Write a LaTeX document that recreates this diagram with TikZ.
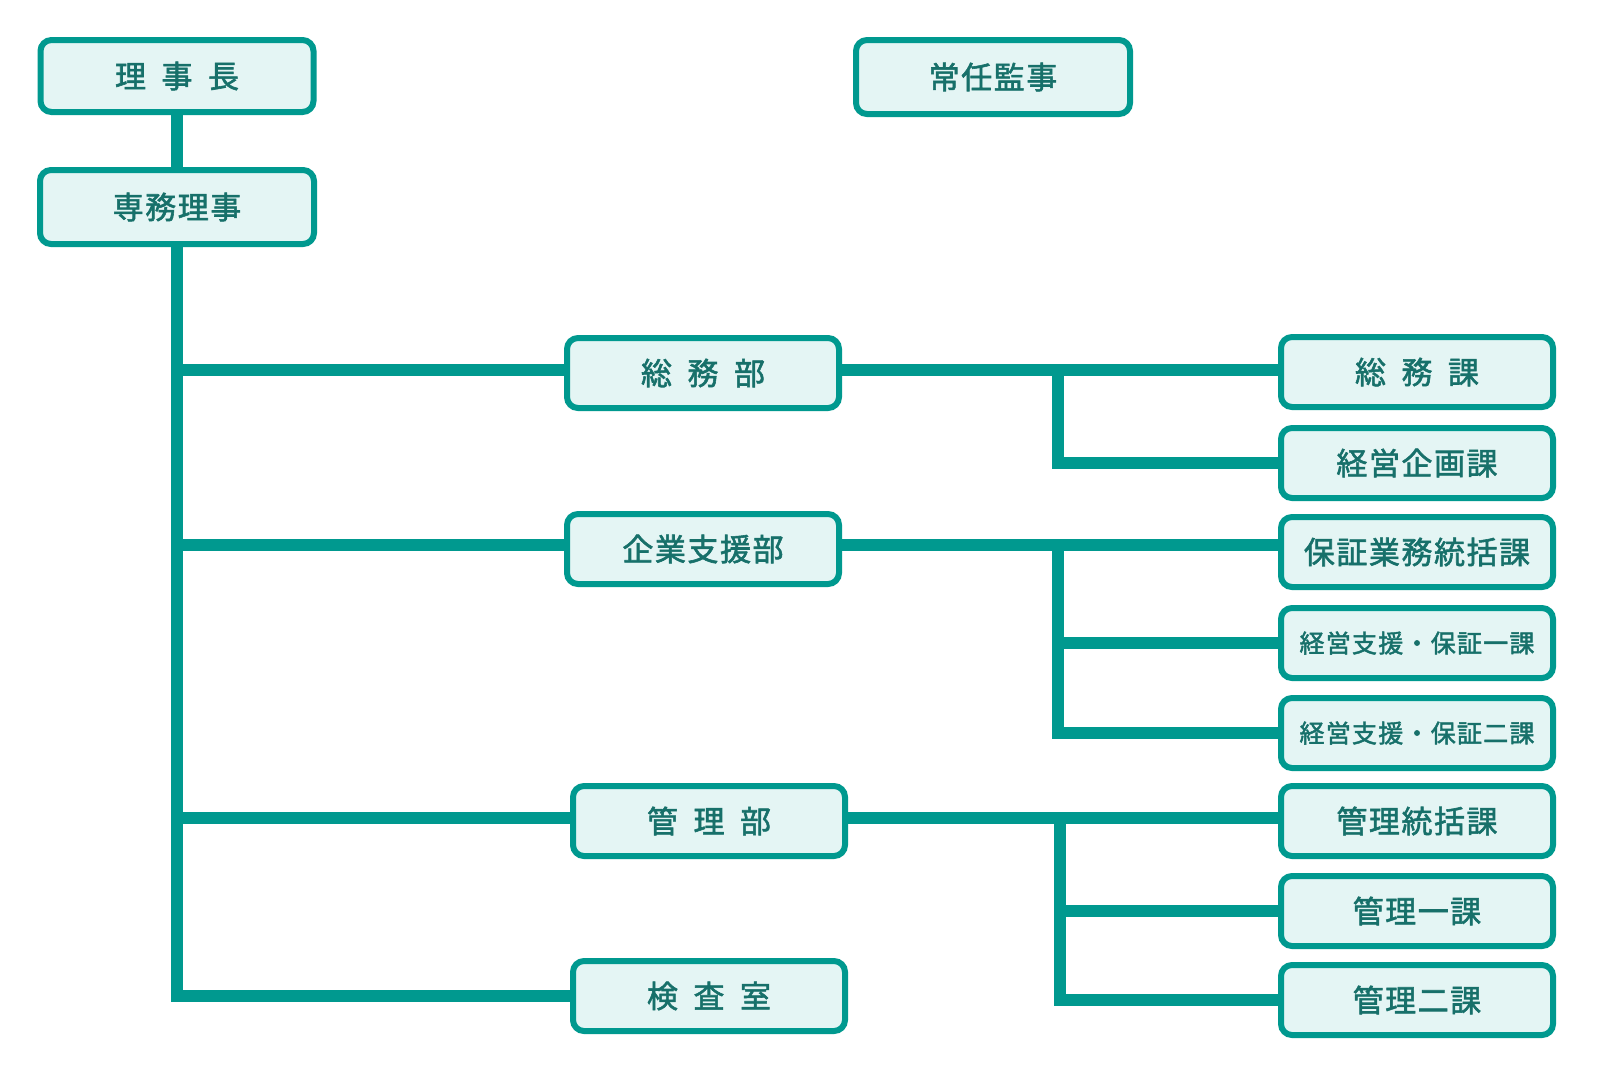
\documentclass[tikz,border=0pt]{standalone}
\usepackage{fontspec}
\setmainfont{Noto Sans CJK JP}
\newfontfamily\cjk{Noto Sans CJK JP}[LetterSpace=5, FakeBold=1.8]
\usetikzlibrary{backgrounds}
\definecolor{tealline}{HTML}{00998F}
\definecolor{tealfill}{HTML}{E4F5F4}
\definecolor{tealtext}{HTML}{17706A}
\newcommand\gp{\hspace{0.5em}}
\tikzset{
  box/.style={draw=tealline, line width=6pt, fill=tealfill, rounded corners=11pt,
    minimum width=272pt, minimum height=70pt, inner sep=0pt, text=tealtext,
    font=\cjk\fontsize{31}{31}\selectfont},
  smalltxt/.style={font=\cjk\fontsize{25}{25}\selectfont},
  conn/.style={draw=tealline, line width=12pt, line join=miter}
}
\begin{document}
\begin{tikzpicture}[x=1pt,y=-1pt]
\useasboundingbox (0,0) rectangle (1600,1080);
% top
\node[box, minimum width=273pt, minimum height=72pt] (rj) at (177,76) {理\gp 事\gp 長};
\node[box, minimum width=274pt, minimum height=74pt] (sm) at (177,207) {専務理事};
\node[box, minimum width=274pt, minimum height=74pt] (jk) at (993,77) {常任監事};
% departments
\node[box] (som) at (703,373) {総\gp 務\gp 部};
\node[box] (kig) at (703,549) {企業支援部};
\node[box] (kan) at (709,821) {管\gp 理\gp 部};
\node[box] (ken) at (709,996) {検\gp 査\gp 室};
% sections
\node[box] (s1) at (1417,372) {総\gp 務\gp 課};
\node[box] (s2) at (1417,463) {経営企画課};
\node[box] (k1) at (1417,552) {保証業務統括課};
\node[box, smalltxt] (k2) at (1417,643) {経営支援・保証一課};
\node[box, smalltxt] (k3) at (1417,733) {経営支援・保証二課};
\node[box] (m1) at (1417,821) {管理統括課};
\node[box] (m2) at (1417,911) {管理一課};
\node[box] (m3) at (1417,1000) {管理二課};
\coordinate (bA) at (1058,0);
\coordinate (bB) at (1060,0);
\begin{scope}[on background layer]
\fill[white] (0,0) rectangle (1600,1080);
\draw[conn] (rj) -- (sm);
\draw[conn] (sm.center) |- (ken.center);
\draw[conn] (sm.center |- 0,370) -- (som.center |- 0,370);
\draw[conn] (sm.center |- 0,545) -- (kig.center |- 0,545);
\draw[conn] (sm.center |- 0,818) -- (kan.center |- 0,818);
% 総務部 branch
\draw[conn] (som.center |- 0,370) -- (s1.center |- 0,370);
\draw[conn] (bA |- 0,370) |- (s2.center);
% 企業支援部 branch
\draw[conn] (kig.center |- 0,545) -- (k1.center |- 0,545);
\draw[conn] (bA |- 0,545) |- (k3.center);
\draw[conn] (bA |- k2.center) -- (k2.center);
% 管理部 branch
\draw[conn] (kan.center |- 0,818) -- (m1.center |- 0,818);
\draw[conn] (bB |- 0,818) |- (m3.center);
\draw[conn] (bB |- m2.center) -- (m2.center);
\end{scope}
\end{tikzpicture}
\end{document}
